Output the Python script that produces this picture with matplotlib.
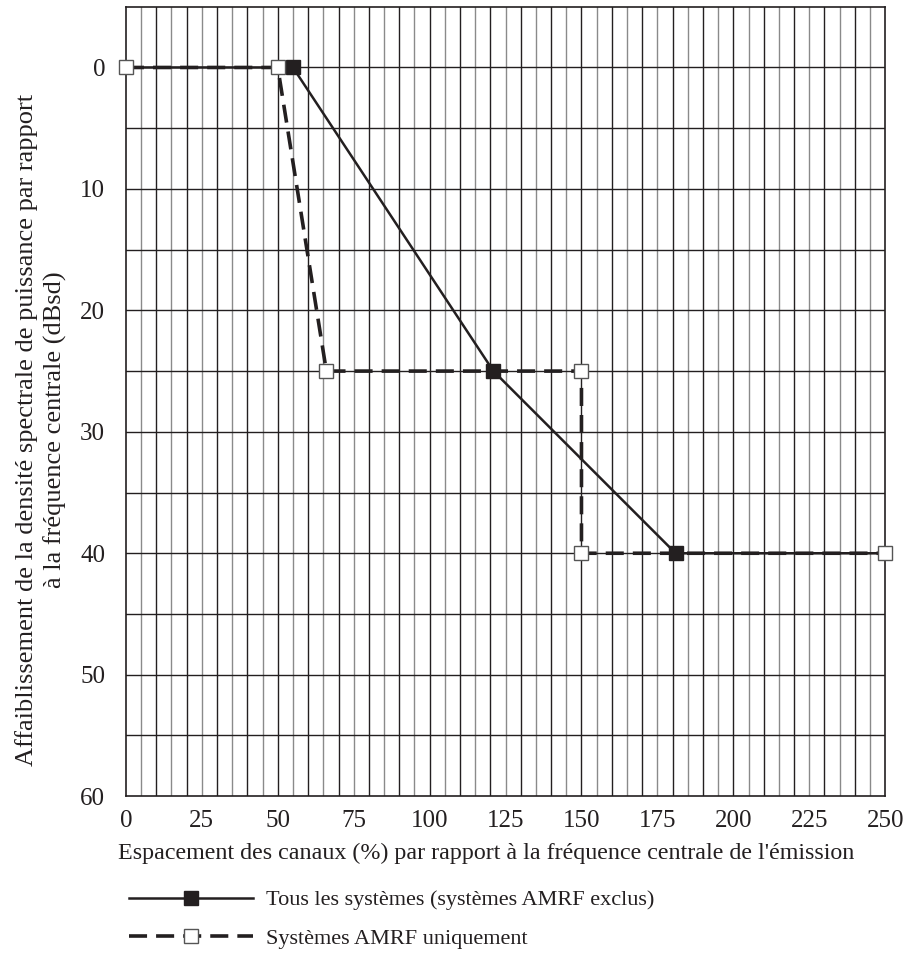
import numpy as np
import matplotlib.pyplot as plt
from matplotlib.lines import Line2D

# data
x_tous = [0, 55, 121, 181, 250]
y_tous = [0, 0, 25, 40, 40]
tous_marked = [1, 2, 3]

x_amrf = [0, 50, 66, 150, 150, 250]
y_amrf = [0, 0, 25, 25, 40, 40]

x_ticks = [0, 25, 50, 75, 100, 125, 150, 175, 200, 225, 250]
y_ticks = [0, 10, 20, 30, 40, 50, 60]

label_tous = 'Tous les systèmes (systèmes AMRF exclus)'
label_amrf = 'Systèmes AMRF uniquement'

ink = '#231f20'
plt.rcParams['font.family'] = ['Liberation Serif', 'DejaVu Serif']

fig = plt.figure(figsize=(9.06, 9.65), dpi=100)
ax = fig.add_axes([0.139, 0.175, 0.838, 0.818])

# grid
for xv in np.arange(5, 250, 5):
    c = ink if xv % 10 == 0 else '#8a8a8a'
    ax.axvline(xv, color=c, lw=1.0, zorder=1)
for yv in np.arange(0, 60, 5):
    ax.axhline(yv, color=ink, lw=1.0, zorder=1)

ax.plot(x_tous, y_tous, color=ink, lw=1.8, zorder=3)
ax.plot([x_tous[i] for i in tous_marked], [y_tous[i] for i in tous_marked],
        ls='none', marker='s', ms=10, mfc=ink, mec=ink, zorder=5, clip_on=False)
ax.plot(x_amrf, y_amrf, color=ink, lw=2.6, ls=(0, (5, 2.5)), zorder=4)
ax.plot(x_amrf, y_amrf, ls='none', marker='s', ms=10, mfc='white', mec='#555555',
        mew=1.0, zorder=6, clip_on=False)

ax.set_xlim(0, 250)
ax.set_ylim(60, -5)
ax.set_xticks(x_ticks)
ax.set_yticks(y_ticks)
ax.tick_params(length=0, labelsize=18, colors=ink)
ax.tick_params(axis='y', pad=15)
ax.tick_params(axis='x', pad=10)
for s in ax.spines.values():
    s.set_color(ink)
    s.set_linewidth(1.2)

ax.set_xlabel("Espacement des canaux (%) par rapport à la fréquence centrale de l'émission",
              fontsize=17.3, color=ink)
ax.xaxis.set_label_coords(0.474, -0.059)
ax.set_ylabel('Affaiblissement de la densité spectrale de puissance par rapport\n'
              'à la fréquence centrale (dBsd)', fontsize=19, color=ink,
              linespacing=1.33)
ax.yaxis.set_label_coords(-0.112, 0.464)
ax.yaxis.label.set_va('center')

handles = [
    Line2D([], [], color=ink, lw=1.8, marker='s', ms=10, mfc=ink, mec=ink),
    Line2D([], [], color=ink, lw=2.6, ls=(0, (5, 2.5)), marker='s', ms=10,
           mfc='white', mec='#555555', mew=1.0),
]
fig.legend(handles, [label_tous, label_amrf], loc='upper left',
           bbox_to_anchor=(0.142, 0.078), frameon=False, fontsize=16,
           handlelength=5.6, handletextpad=0.6, labelspacing=0.8,
           numpoints=1, borderaxespad=0, borderpad=0, labelcolor=ink)

fig.savefig('out.png', dpi=100)
